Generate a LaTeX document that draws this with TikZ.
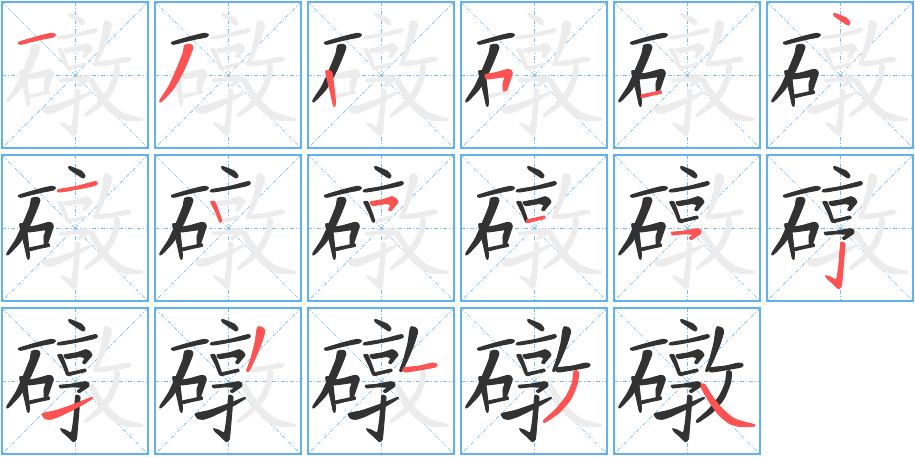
\documentclass[tikz,border=0pt]{standalone}
\definecolor{bd}{RGB}{99,178,240}
\definecolor{gd}{RGB}{120,190,240}
\definecolor{gr}{RGB}{236,236,236}
\definecolor{bk}{RGB}{50,50,50}
\definecolor{rd}{RGB}{255,82,82}
\tikzset{
  panel/.style={draw=bd,line width=1.6pt},
  guide/.style={draw=gd,line width=0.7pt,dash pattern=on 4pt off 2pt on 1pt off 2pt},
  brush/.style={fill=#1,draw=#1,line width=0.9pt,line join=round},
}
\newcommand\stk[2]{\ifcase#1\or
 \path[brush=#2] plot[smooth cycle,tension=0.5] coordinates {(56,127) (90,116) (130,105) (155,100) (166,104) (160,111) (130,117) (95,125) (62,133)};\or
 \path[brush=#2] plot[smooth cycle,tension=0.4] coordinates {(95,136) (112,133) (120,142) (108,175) (88,220) (60,268) (25,305) (21,300) (48,258) (72,205) (90,160)};\or
 \path[brush=#2] plot[smooth cycle,tension=0.4] coordinates {(59,213) (70,212) (78,218) (82,245) (88,300) (87,318) (82,316) (74,280) (62,232)};\or
 \path[brush=#2] plot[smooth cycle,tension=0.3] coordinates {(78,224) (110,218) (146,208) (156,211) (160,220) (152,245) (143,270) (133,273) (132,250) (137,231) (110,234) (82,237)};\or
 \path[brush=#2] plot[smooth cycle,tension=0.3] coordinates {(88,285) (120,278) (146,272) (148,280) (120,286) (90,293)};\or
 \path[brush=#2] plot[smooth cycle,tension=0.5] coordinates {(207,40) (222,45) (245,55) (255,68) (250,75) (240,70) (222,58) (208,48)};\or
 \path[brush=#2] plot[smooth cycle,tension=0.5] coordinates {(175,110) (230,100) (275,88) (288,86) (292,92) (282,98) (240,107) (180,117)};\or
 \path[brush=#2] plot[smooth cycle,tension=0.4] coordinates {(173,147) (185,146) (197,175) (206,203) (200,207) (189,180) (175,152)};\or
 \path[brush=#2] plot[smooth cycle,tension=0.3] coordinates {(192,147) (230,140) (258,131) (270,137) (276,147) (266,160) (255,173) (248,170) (254,156) (240,152) (200,158)};\or
 \path[brush=#2] plot[smooth cycle,tension=0.3] coordinates {(203,201) (230,195) (255,189) (258,196) (230,203) (205,209)};\or
 \path[brush=#2] plot[smooth cycle,tension=0.3] coordinates {(178,238) (210,235) (255,227) (266,231) (266,241) (252,251) (238,260) (232,255) (244,244) (210,243) (182,246)};\or
 \path[brush=#2] plot[smooth cycle,tension=0.3] coordinates {(228,267) (240,272) (238,300) (233,360) (229,400) (220,407) (205,393) (186,376) (182,368) (196,372) (214,380) (221,340) (225,290)};\or
 \path[brush=#2] plot[smooth cycle,tension=0.4] coordinates {(128,323) (170,313) (230,292) (272,275) (276,278) (240,300) (180,330) (150,340) (134,337)};\or
 \path[brush=#2] plot[smooth cycle,tension=0.4] coordinates {(316,62) (330,66) (335,78) (322,120) (303,165) (287,196) (281,193) (293,160) (306,110) (311,75)};\or
 \path[brush=#2] plot[smooth cycle,tension=0.4] coordinates {(292,186) (340,180) (380,171) (393,175) (388,183) (340,192) (296,198)};\or
 \path[brush=#2] plot[smooth cycle,tension=0.4] coordinates {(345,195) (358,198) (355,232) (335,280) (300,320) (258,349) (254,343) (290,310) (322,270) (340,230)};\or
 \path[brush=#2] plot[smooth cycle,tension=0.4] coordinates {(267,236) (278,235) (300,270) (330,308) (365,337) (400,349) (428,356) (421,362) (380,361) (350,351) (320,326) (294,290) (270,250)};\fi}
\begin{document}
\begin{tikzpicture}[x=1pt,y=-1pt]
\useasboundingbox (0,0) rectangle (915,456);
\foreach \k in {1,...,17} {
  \pgfmathtruncatemacro\cc{mod(\k-1,6)}
  \pgfmathtruncatemacro\rr{div(\k-1,6)}
  \begin{scope}[shift={(153*\cc,153*\rr)}]
    \coordinate (tl\k) at (2,2);
    \coordinate (br\k) at (148,148);
    \coordinate (tr\k) at (148,2);
    \coordinate (bl\k) at (2,148);
    \coordinate (tm\k) at (75,2);
    \coordinate (bm\k) at (75,148);
    \coordinate (lm\k) at (2,75);
    \coordinate (rm\k) at (148,75);
    \draw[guide] (tl\k) -- (br\k);
    \draw[guide] (tr\k) -- (bl\k);
    \draw[guide] (tm\k) -- (bm\k);
    \draw[guide] (lm\k) -- (rm\k);
    \draw[panel] (tl\k) rectangle (br\k);
    \begin{scope}[x=0.33333pt,y=-0.33333pt]
      \foreach \i in {1,...,17} {\stk{\i}{gr}}
      \ifnum\k>1
        \pgfmathtruncatemacro\km{\k-1}
        \foreach \i in {1,...,\km} {\stk{\i}{bk}}
      \fi
      \stk{\k}{rd}
    \end{scope}
  \end{scope}
}
\end{tikzpicture}
\end{document}
